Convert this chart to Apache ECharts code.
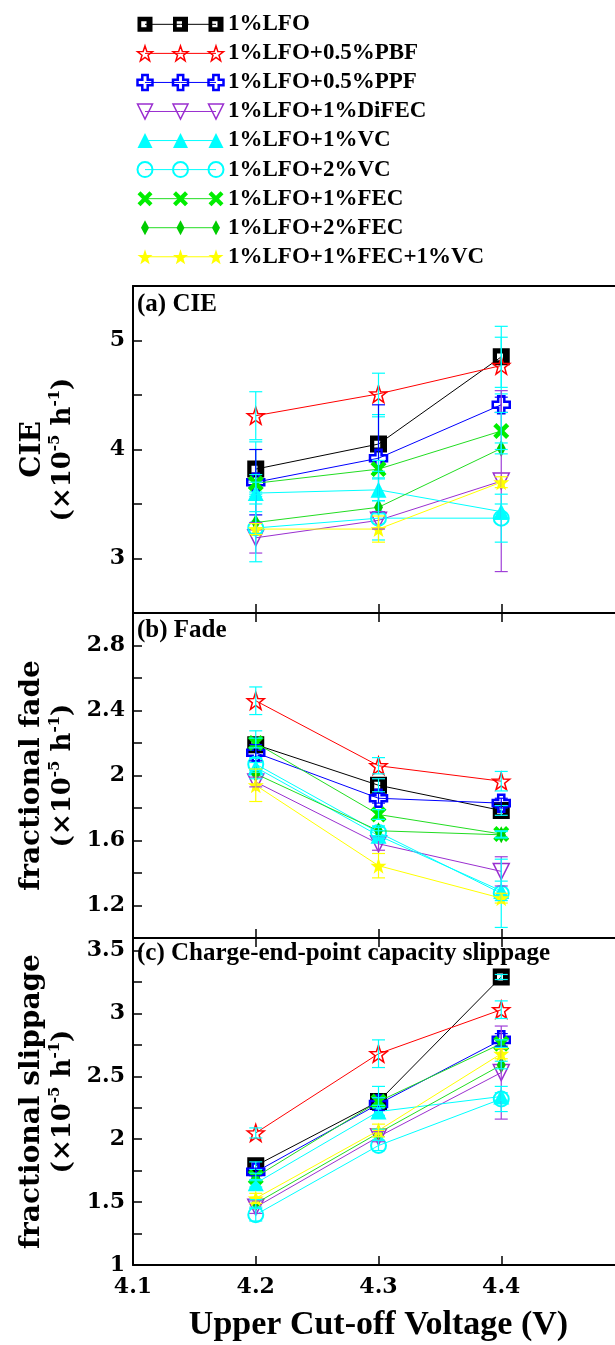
<!DOCTYPE html>
<html>
<head>
<meta charset="utf-8">
<script src="https://cdn.jsdelivr.net/npm/echarts@6/dist/echarts.min.js"></script>
<style>
  html, body { margin: 0; padding: 0; background: #fff; }
  #chart { width: 615px; height: 1345px; }
</style>
</head>
<body>
<div id="chart"></div>
<script>
// Upper cut-off voltages (V)
const voltages = [4.2, 4.3, 4.4];
const xTicks = [4.1, 4.2, 4.3, 4.4];

const seriesNames = [
  '1%LFO', '1%LFO+0.5%PBF', '1%LFO+0.5%PPF', '1%LFO+1%DiFEC', '1%LFO+1%VC',
  '1%LFO+2%VC', '1%LFO+1%FEC', '1%LFO+2%FEC', '1%LFO+1%FEC+1%VC'
];

// (a) CIE, ×10^-5 h^-1 — one row per electrolyte, one column per voltage
const cieValues = [
  [3.82, 4.05, 4.85],
  [4.31, 4.51, 4.77],
  [3.70, 3.92, 4.41],
  [3.19, 3.35, 3.71],
  [3.60, 3.63, 3.43],
  [3.28, 3.37, 3.37],
  [3.69, 3.82, 4.17],
  [3.33, 3.47, 4.01],
  [3.27, 3.27, 3.70]
];
const cieErrors = [
  [0.25, 0.25, 0.28],
  [0.22, 0.19, 0.26],
  [0.30, 0.49, 0.07],
  [0.14, 0.08, 0.83],
  [0.10, 0.10, 0.07],
  [0.31, 0.20, 0.22],
  [0.08, 0.08, 0.17],
  [0.10, 0.06, 0.05],
  [0.05, 0.12, 0.05]
];

// (b) fractional fade, ×10^-5 h^-1
const fadeValues = [
  [2.19, 1.94, 1.785],
  [2.46, 2.06, 1.965],
  [2.14, 1.86, 1.83],
  [1.96, 1.58, 1.41],
  [2.05, 1.63, 1.29],
  [2.07, 1.65, 1.275],
  [2.20, 1.76, 1.64],
  [2.01, 1.66, 1.635],
  [1.94, 1.445, 1.245]
];
const fadeErrors = [
  [0.085, 0.04, 0.03],
  [0.085, 0.05, 0.06],
  [0.05, 0.03, 0.03],
  [0.03, 0.04, 0.09],
  [0.03, 0.03, 0.06],
  [0.04, 0.03, 0.21],
  [0.03, 0.03, 0.02],
  [0.03, 0.03, 0.02],
  [0.10, 0.075, 0.03]
];

// (c) charge-end-point capacity slippage, ×10^-5 h^-1
const slipValues = [
  [1.79, 2.30, 3.29],
  [2.05, 2.68, 3.03],
  [1.74, 2.28, 2.79],
  [1.46, 2.02, 2.53],
  [1.65, 2.22, 2.34],
  [1.40, 1.95, 2.32],
  [1.70, 2.30, 2.76],
  [1.49, 2.05, 2.59],
  [1.53, 2.07, 2.68]
];
const slipErrors = [
  [0.03, 0.12, 0.02],
  [0.04, 0.11, 0.07],
  [0.03, 0.05, 0.05],
  [0.05, 0.04, 0.37],
  [0.03, 0.03, 0.03],
  [0.05, 0.04, 0.10],
  [0.03, 0.03, 0.03],
  [0.03, 0.03, 0.03],
  [0.04, 0.05, 0.04]
];

const FONT = '"Liberation Serif", "Times New Roman", serif';
const WIDE_FONT = '"DejaVu Serif", "Liberation Serif", serif';

// five-pointed star outline as an SVG path
function starPath(outer, inner) {
  let d = '';
  for (let i = 0; i < 10; i++) {
    const r = i % 2 === 0 ? outer : inner;
    const a = -Math.PI / 2 + i * Math.PI / 5;
    const x = (outer + r * Math.cos(a)).toFixed(2);
    const y = (outer + r * Math.sin(a)).toFixed(2);
    d += (i === 0 ? 'M' : 'L') + x + ',' + y;
  }
  return 'path://' + d + 'Z';
}
const STAR = starPath(10, 4);
const SQUARE_HOLE = 'path://M0,0H10V10H0Z M2.5,3V7H6V3Z';
const PLUS = 'path://M3.2,0H6.8V3.2H10V6.8H6.8V10H3.2V6.8H0V3.2H3.2Z';
const CROSS = 'path://M0,2L2,0L5,3L8,0L10,2L7,5L10,8L8,10L5,7L2,10L0,8L3,5Z';
const TRI_DOWN = 'path://M0,0H10L5,9Z';

// marker style for each electrolyte
const styles = [
  { line: '#000000', symbol: SQUARE_HOLE, size: 17, fill: '#000000', border: '#000000', bw: 0, err: '#00ffff' },
  { line: '#ff0000', symbol: STAR, size: 17, fill: 'rgba(255,255,255,0)', border: '#ff0000', bw: 1.5, err: '#00ffff' },
  { line: '#0000ff', symbol: PLUS, size: 17, fill: 'rgba(255,255,255,0)', border: '#0000ff', bw: 2.5, err: '#0000ff' },
  { line: '#9a2fd0', symbol: TRI_DOWN, size: 16, fill: 'rgba(255,255,255,0)', border: '#9a2fd0', bw: 1.5, err: '#a040d8' },
  { line: '#00ffff', symbol: 'triangle', size: 16, fill: '#00ffff', border: '#00ffff', bw: 0, err: '#00ffff' },
  { line: '#00ffff', symbol: 'circle', size: 15, fill: 'rgba(255,255,255,0)', border: '#00ffff', bw: 2, err: '#00ffff' },
  { line: '#22dd22', symbol: CROSS, size: 16, fill: '#00ee00', border: '#00ee00', bw: 0, err: '#00ffff' },
  { line: '#22dd22', symbol: 'diamond', size: [9, 17], fill: '#00cc00', border: '#00cc00', bw: 0, err: '#00ffff' },
  { line: '#ffff00', symbol: STAR, size: 16, fill: '#ffff00', border: '#ffff00', bw: 0, err: '#ffff00' }
];

const GRID_LEFT = 133, GRID_W = 491;
const grids = [
  { left: 145, top: 9.8, width: 71, height: 261.5 },              // legend rows
  { left: GRID_LEFT, top: 286, width: GRID_W, height: 327 },       // (a)
  { left: GRID_LEFT, top: 613, width: GRID_W, height: 325 },       // (b)
  { left: GRID_LEFT, top: 938, width: GRID_W, height: 327 }        // (c)
].map(g => Object.assign({ outerBoundsMode: 'none', containLabel: false }, g));

const frameLine = { show: true, lineStyle: { color: '#000', width: 2 } };
const tickStyle = { show: true, inside: true, length: 9, lineStyle: { color: '#000', width: 1.5 } };
const labelFont = { fontFamily: WIDE_FONT, fontWeight: 'bold', fontSize: 22, color: '#000' };

function xAxisFor(gridIndex, position, opts) {
  return Object.assign({
    type: 'value', gridIndex, position, min: 4.1, max: 4.5, interval: 0.1,
    axisLine: frameLine, axisTick: tickStyle, axisLabel: { show: false },
    splitLine: { show: false }
  }, opts || {});
}

const xAxes = [
  { type: 'value', gridIndex: 0, min: 0, max: 2, show: false },
  xAxisFor(1, 'bottom'),
  xAxisFor(1, 'top', { axisTick: { show: false } }),
  xAxisFor(2, 'bottom'),
  xAxisFor(2, 'top'),
  xAxisFor(3, 'bottom', {
    axisLabel: Object.assign({
      show: true, margin: 11,
      formatter: v => (xTicks.some(t => Math.abs(t - v) < 1e-6) ? v.toFixed(1) : '')
    }, labelFont),
    name: 'Upper Cut-off Voltage (V)', nameLocation: 'middle', nameGap: 43,
    nameTextStyle: { fontFamily: FONT, fontWeight: 'bold', fontSize: 34, color: '#000' }
  }),
  xAxisFor(3, 'top')
];

function axisName(title) {
  return '{t|' + title + '}\n{u|(×10}{s|-5}{u| h}{s|-1}{u|)}';
}
const nameRich = {
  t: { fontFamily: WIDE_FONT, fontWeight: 'bold', fontSize: 28, lineHeight: 31, color: '#000' },
  u: { fontFamily: WIDE_FONT, fontWeight: 'bold', fontSize: 26, lineHeight: 31, color: '#000' },
  s: { fontFamily: WIDE_FONT, fontWeight: 'bold', fontSize: 15, lineHeight: 31, verticalAlign: 'top', color: '#000' }
};

function yAxisFor(gridIndex, min, max, interval, showLabel, title) {
  return {
    type: 'value', gridIndex, position: 'left', min, max, interval,
    axisLine: frameLine, axisTick: tickStyle, splitLine: { show: false },
    axisLabel: Object.assign({ margin: 8, formatter: v => (showLabel(v) ? String(Number(v.toFixed(2))) : '') }, labelFont),
    name: axisName(title), nameLocation: 'middle', nameRotate: 90, nameGap: 54,
    nameTextStyle: { rich: nameRich, align: 'center' }
  };
}
const near = (a, b) => Math.abs(a - b) < 1e-6;
const yAxes = [
  {
    type: 'category', gridIndex: 0, data: seriesNames, inverse: true, position: 'right',
    axisLine: { show: false }, axisTick: { show: false },
    axisLabel: { interval: 0, margin: 12, align: 'left', fontFamily: FONT, fontWeight: 'bold', fontSize: 23, color: '#000' }
  },
  yAxisFor(1, 2.5, 5.5, 0.5, v => near(v, Math.round(v)), 'CIE'),
  yAxisFor(2, 1.0, 3.0, 0.2, v => v > 1.1 && v < 2.9 && near((v - 1.2) / 0.4, Math.round((v - 1.2) / 0.4)), 'fractional fade'),
  yAxisFor(3, 1.0, 3.6, 0.25, v => v < 3.55 && near(v * 2, Math.round(v * 2)), 'fractional slippage')
];

function lineSeries(i, axisIndex, data, legendRow) {
  const s = styles[i];
  return {
    type: 'line', name: seriesNames[i] + (legendRow ? ' key' : ''),
    xAxisIndex: axisIndex.x, yAxisIndex: axisIndex.y,
    data, symbol: s.symbol, symbolSize: legendRow && Array.isArray(s.size) ? [8, 15] : (legendRow ? Math.min(s.size, 15) : s.size),
    showAllSymbol: true, silent: true, animation: false, z: 2 + i * 0.01,
    lineStyle: { color: s.line, width: 1 },
    itemStyle: { color: s.fill, borderColor: s.border, borderWidth: s.bw },
    emphasis: { disabled: true }
  };
}

function errorSeries(i, axisIndex, values, errors) {
  const color = styles[i].err;
  const data = voltages.map((v, k) => [v, values[i][k] - errors[i][k], values[i][k] + errors[i][k]]);
  return {
    type: 'custom', xAxisIndex: axisIndex.x, yAxisIndex: axisIndex.y, data, z: 3,
    silent: true, animation: false, encode: { x: 0, y: [1, 2] },
    renderItem(params, api) {
      const lo = api.coord([api.value(0), api.value(1)]);
      const hi = api.coord([api.value(0), api.value(2)]);
      const w = 6.5;
      const style = { stroke: color, lineWidth: 1.2 };
      return {
        type: 'group', children: [
          { type: 'line', shape: { x1: lo[0], y1: lo[1], x2: hi[0], y2: hi[1] }, style },
          { type: 'line', shape: { x1: lo[0] - w, y1: lo[1], x2: lo[0] + w, y2: lo[1] }, style },
          { type: 'line', shape: { x1: hi[0] - w, y1: hi[1], x2: hi[0] + w, y2: hi[1] }, style }
        ]
      };
    }
  };
}

const panels = [
  { axes: { x: 1, y: 1 }, values: cieValues, errors: cieErrors },
  { axes: { x: 3, y: 2 }, values: fadeValues, errors: fadeErrors },
  { axes: { x: 5, y: 3 }, values: slipValues, errors: slipErrors }
];

const series = [];
// legend rows: three markers joined by a line, one row per electrolyte
seriesNames.forEach((name, i) => {
  series.push(lineSeries(i, { x: 0, y: 0 }, [[0, name], [1, name], [2, name]], true));
});
panels.forEach(p => {
  seriesNames.forEach((name, i) => {
    series.push(lineSeries(i, p.axes, voltages.map((v, k) => [v, p.values[i][k]]), false));
  });
  seriesNames.forEach((name, i) => {
    series.push(errorSeries(i, p.axes, p.values, p.errors));
  });
});

const panelTitle = (text, top) => ({
  text, left: 137, top, padding: 0,
  textStyle: { fontFamily: FONT, fontWeight: 'bold', fontSize: 25, color: '#000' }
});

const option = {
  backgroundColor: '#ffffff',
  animation: false,
  title: [
    panelTitle('(a) CIE', 292),
    panelTitle('(b) Fade', 618),
    panelTitle('(c) Charge-end-point capacity slippage', 941)
  ],
  grid: grids,
  xAxis: xAxes,
  yAxis: yAxes,
  series
};

const chart = echarts.init(document.getElementById('chart'), null, { renderer: 'canvas' });
chart.setOption(option);
</script>
</body>
</html>
